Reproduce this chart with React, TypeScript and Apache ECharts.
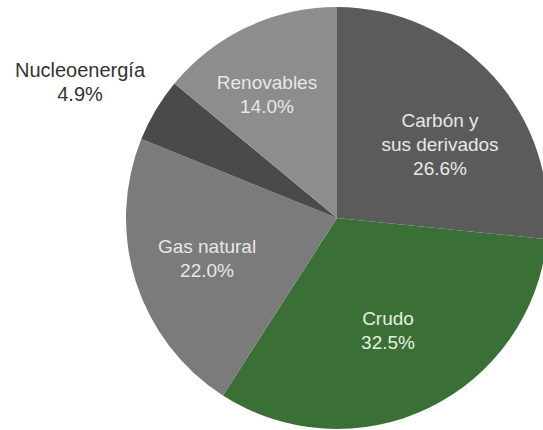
import React, { useEffect, useRef } from "react";
import * as echarts from "echarts";

const categories = ["Carbón y\nsus derivados", "Crudo", "Gas natural", "Nucleoenergía", "Renovables"];
const values = [26.6, 32.5, 22.0, 4.9, 14.0];
const colors = ["#5b5b5b", "#3a7036", "#7b7b7b", "#4a4a4a", "#8d8d8d"];
// label offsets from pie centre (layout only)
const labelOffsets = [
  [103, -74],
  [51, 112],
  [-130, 40],
  [-257, -136],
  [-70, -124],
];
const labelColors = ["#e8e8e4", "#e8eee0", "#e8e8e4", "#333333", "#e8e8e4"];
const labelSizes = [19, 19, 19, 20, 19];

export default function App() {
  const ref = useRef<HTMLDivElement>(null);
  useEffect(() => {
    if (!ref.current) return;
    const chart = echarts.init(ref.current, undefined, { renderer: "svg" });
    chart.setOption({
      animation: false,
      series: [
        {
          type: "pie",
          center: [337, 218],
          radius: 211,
          startAngle: 90,
          clockwise: true,
          silent: true,
          avoidLabelOverlap: false,
          labelLine: { show: false },
          itemStyle: { borderWidth: 0 },
          data: categories.map((name, i) => ({
            name,
            value: values[i],
            itemStyle: { color: colors[i] },
            label: {
              show: true,
              position: "center",
              offset: labelOffsets[i],
              color: labelColors[i],
              fontSize: labelSizes[i],
              fontFamily: "Liberation Sans, Arial, sans-serif",
              lineHeight: 24,
              align: "center",
              verticalAlign: "middle",
              formatter: (p: any) => `${p.name}\n${values[p.dataIndex].toFixed(1)}%`,
            },
          })),
        },
      ],
    });
    return () => chart.dispose();
  }, []);
  return (
    <div
      ref={ref}
      style={{ position: "fixed", left: 0, top: 0, width: 543, height: 430, background: "#fff" }}
    />
  );
}
